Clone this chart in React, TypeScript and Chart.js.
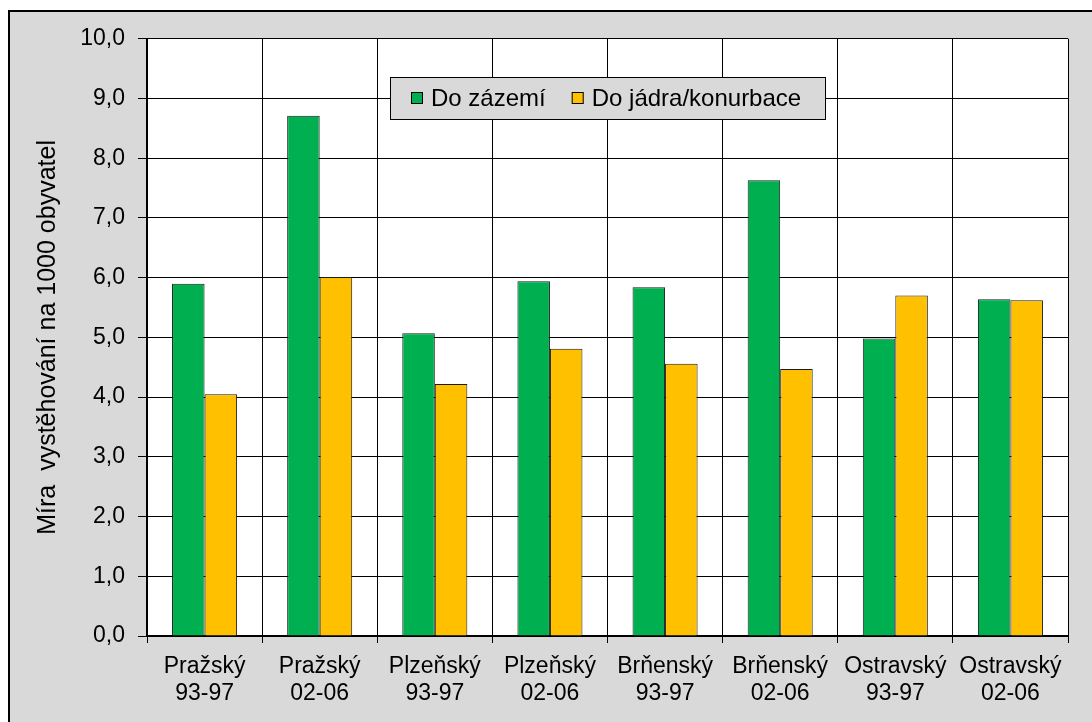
import React, { useEffect, useRef } from "react";
import { Chart, registerables } from "chart.js";

Chart.register(...registerables);

const categories: string[][] = [
  ["Pražský", "93-97"],
  ["Pražský", "02-06"],
  ["Plzeňský", "93-97"],
  ["Plzeňský", "02-06"],
  ["Brňenský", "93-97"],
  ["Brňenský", "02-06"],
  ["Ostravský", "93-97"],
  ["Ostravský", "02-06"],
];

const doZazemi: number[] = [5.9, 8.71, 5.07, 5.94, 5.84, 7.63, 4.98, 5.64];
const doJadra: number[] = [4.05, 6.01, 4.22, 4.81, 4.56, 4.47, 5.7, 5.62];

const seriesLabels = ["Do zázemí", "Do jádra/konurbace"];
const seriesColors = ["#00b050", "#ffc000"];

const yTicksMin = 0;
const yTicksMax = 10;
const yTickStep = 1;
const yTitle = "Míra  vystěhování na 1000 obyvatel";

const FONT = "'Liberation Sans', Arial, sans-serif";

// White plot background behind the bars
const plotBackground = {
  id: "plotBackground",
  beforeDraw(chart: any) {
    const { ctx, chartArea } = chart;
    ctx.save();
    ctx.fillStyle = "#ffffff";
    ctx.fillRect(chartArea.left, chartArea.top, chartArea.right - chartArea.left, chartArea.bottom - chartArea.top);
    ctx.restore();
  },
};

// Boxed legend sitting inside the plot area
const boxedLegend = {
  id: "boxedLegend",
  afterDraw(chart: any) {
    const { ctx } = chart;
    const x = 380;
    const y = 65;
    const w = 436;
    const h = 43;
    ctx.save();
    ctx.fillStyle = "#d9d9d9";
    ctx.fillRect(x, y, w, h);
    ctx.strokeStyle = "#000000";
    ctx.lineWidth = 1;
    ctx.strokeRect(x + 0.5, y + 0.5, w - 1, h - 1);
    ctx.font = `24px ${FONT}`;
    ctx.textBaseline = "middle";
    let cx = x + 21;
    chart.data.datasets.forEach((ds: any) => {
      ctx.fillStyle = ds.backgroundColor;
      ctx.fillRect(cx, y + 15, 12, 12);
      ctx.strokeStyle = "#000000";
      ctx.strokeRect(cx + 0.5, y + 15.5, 11, 11);
      ctx.fillStyle = "#000000";
      ctx.fillText(ds.label, cx + 20, y + 22);
      cx += 20 + ctx.measureText(ds.label).width + 26;
    });
    ctx.restore();
  },
};

export default function App() {
  const canvasRef = useRef<HTMLCanvasElement | null>(null);

  useEffect(() => {
    if (!canvasRef.current) return;
    const chart = new Chart(canvasRef.current, {
      type: "bar",
      data: {
        labels: categories,
        datasets: [
          {
            label: seriesLabels[0],
            data: doZazemi,
            backgroundColor: seriesColors[0],
            borderColor: "#1a1a1a",
            borderWidth: 1,
            categoryPercentage: 0.565,
            barPercentage: 1,
          },
          {
            label: seriesLabels[1],
            data: doJadra,
            backgroundColor: seriesColors[1],
            borderColor: "#1a1a1a",
            borderWidth: 1,
            categoryPercentage: 0.565,
            barPercentage: 1,
          },
        ],
      },
      options: {
        responsive: false,
        animation: false,
        layout: { padding: { top: 25, right: 24, left: 0, bottom: 0 } },
        plugins: {
          legend: { display: false },
          tooltip: { enabled: false },
        },
        scales: {
          x: {
            grid: {
              offset: true,
              color: "#000000",
              lineWidth: 1,
              tickLength: 7,
            },
            border: { color: "#000000", width: 2 },
            ticks: {
              color: "#000000",
              font: { family: FONT, size: 23, lineHeight: 1.17 },
              padding: 10,
              maxRotation: 0,
              autoSkip: false,
            },
            afterFit(scale: any) {
              scale.height = 86;
            },
          },
          y: {
            min: yTicksMin,
            max: yTicksMax,
            grid: {
              color: "#000000",
              lineWidth: 1,
              tickLength: 9,
            },
            border: { color: "#000000", width: 2 },
            ticks: {
              stepSize: yTickStep,
              color: "#000000",
              font: { family: FONT, size: 23 },
              padding: 13,
              callback: (v: any) => Number(v).toFixed(1).replace(".", ","),
            },
            title: {
              display: true,
              text: yTitle,
              color: "#000000",
              font: { family: FONT, size: 25 },
              padding: { top: 23, bottom: 0 },
            },
            afterFit(scale: any) {
              scale.width = 137;
            },
          },
        },
      },
      plugins: [plotBackground, boxedLegend],
    });
    return () => chart.destroy();
  }, []);

  return (
    <div
      style={{
        position: "fixed",
        left: 8,
        top: 10,
        right: 0,
        bottom: 0,
        background: "#d9d9d9",
        borderLeft: "2px solid #000",
        borderTop: "2px solid #000",
        overflow: "hidden",
      }}
    >
      <canvas ref={canvasRef} width={1082} height={710} style={{ display: "block" }} />
    </div>
  );
}
